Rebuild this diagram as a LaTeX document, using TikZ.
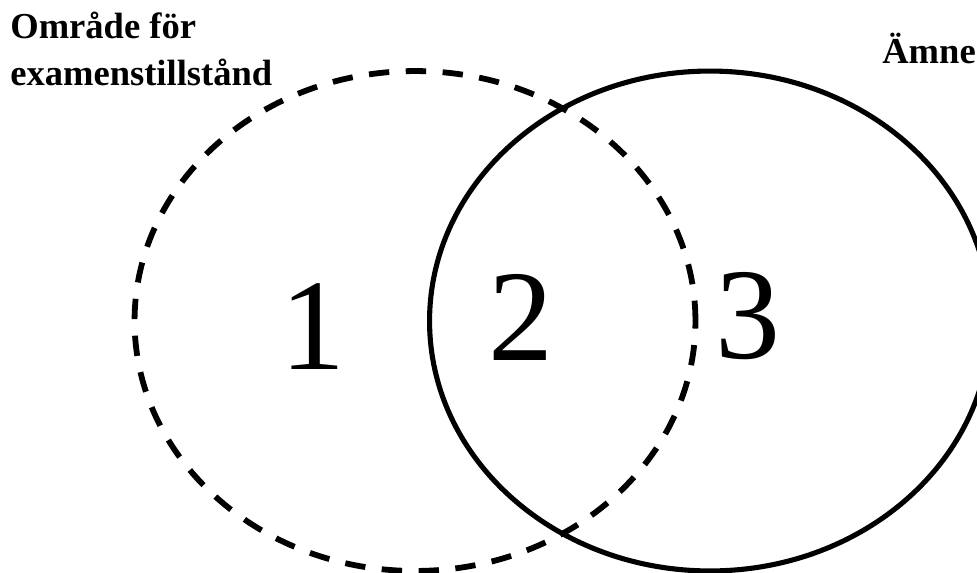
\documentclass[tikz,border=0pt]{standalone}
\usepackage{fontspec}
\setmainfont{Liberation Serif}
\usetikzlibrary{shapes.geometric,positioning}

\begin{document}
\begin{tikzpicture}[
  x=0.02cm, y=-0.02cm,
  set/.style={draw, ellipse, minimum width=11.22cm, minimum height=10cm, inner sep=0pt},
  title/.style={anchor=base west, inner sep=0pt, font=\fontsize{20.8}{26.7}\selectfont\bfseries, align=left},
  num/.style={anchor=base, inner sep=0pt, font=\fontsize{74}{74}\selectfont}
]
\useasboundingbox (0,0) rectangle (977,572);

% the two sets -- same size, shifted sideways
\node[set, line width=3.3pt, dash pattern=on 11.6pt off 9.4pt] (exam) at (415,321) {};
\node[set, line width=2.9pt] (amnet) at (710,321) {};

% headings (base = last line)
\node[title] (examlbl) at (10,85) {Område för\\examenstillstånd};
\node[title] (amnelbl) at (882,63) {Ämne};

% region numbers
\node[num] (r1) at (313,369) {1};
\node[num] (r2) at (521,360) {2};
\node[num] (r3) at (748,358) {3};
\end{tikzpicture}
\end{document}
